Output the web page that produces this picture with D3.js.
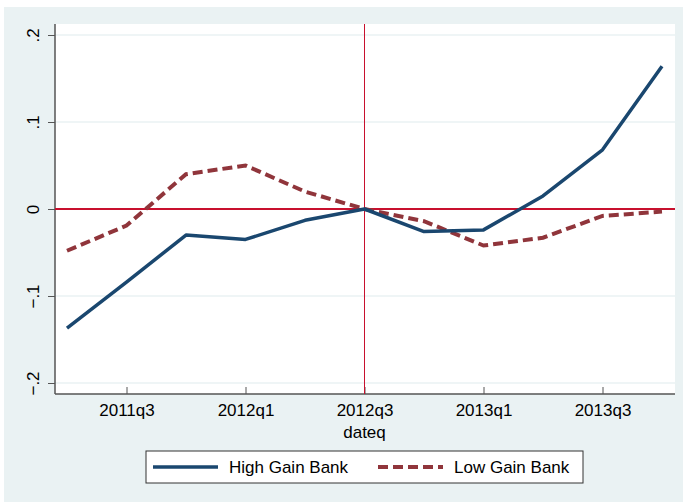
<!DOCTYPE html>
<html>
<head>
<meta charset="utf-8">
<script src="https://cdn.jsdelivr.net/npm/d3@7"></script>
<style>
  body { margin: 0; background: #fff; }
  svg text { font-family: "Liberation Sans", Arial, sans-serif; fill: #000; }
</style>
</head>
<body>
<div id="chart"></div>
<script>
// quarters shown on the x axis
const quarters = ['2011q2', '2011q3', '2011q4', '2012q1', '2012q2', '2012q3',
  '2012q4', '2013q1', '2013q2', '2013q3', '2013q4'];
const highGain = [-0.137, -0.084, -0.030, -0.035, -0.013, 0.000,
  -0.026, -0.024, 0.015, 0.068, 0.164];
const lowGain = [-0.048, -0.019, 0.040, 0.050, 0.020, 0.000,
  -0.014, -0.042, -0.033, -0.008, -0.003];
const yTicks = [-0.2, -0.1, 0, 0.1, 0.2];
const xTicks = ['2011q3', '2012q1', '2012q3', '2013q1', '2013q3'];
const seriesNames = ['High Gain Bank', 'Low Gain Bank'];

const W = 687, H = 502;
const plot = { left: 55, right: 675, top: 24, bottom: 394 };

const svg = d3.select('#chart')
  .append('svg')
  .attr('width', W)
  .attr('height', H);

// graph region
svg.append('rect')
  .attr('x', 4).attr('y', 7)
  .attr('width', 679).attr('height', H - 7)
  .attr('fill', '#eaf2f3');

svg.append('rect')
  .attr('x', plot.left).attr('y', plot.top)
  .attr('width', plot.right - plot.left).attr('height', plot.bottom - plot.top)
  .attr('fill', '#fff');

const qIndex = q => quarters.indexOf(q);
const x = d3.scaleLinear()
  .domain([qIndex('2011q3') - 1, qIndex('2013q3') + 1])
  .range([67, 662]);
const y = d3.scaleLinear()
  .domain([-0.2, 0.2])
  .range([383, 35]);

const fmt = d => d === 0 ? '0' : d3.format('.1f')(d).replace('0.', '.');

// grid
svg.append('g')
  .selectAll('line')
  .data(yTicks)
  .enter()
  .append('line')
  .attr('x1', plot.left).attr('x2', plot.right)
  .attr('y1', d => y(d)).attr('y2', d => y(d))
  .attr('stroke', '#eaf2f3')
  .attr('stroke-width', 1.5);

// y axis
const yAxis = d3.axisLeft(y).tickValues(yTicks).tickSize(7).tickFormat(fmt);
const gy = svg.append('g')
  .attr('transform', `translate(${plot.left},0)`)
  .call(yAxis);
gy.select('.domain').attr('d', `M0,${plot.top}V${plot.bottom}`).attr('stroke', '#555').attr('stroke-width', 1.5);
gy.selectAll('.tick line').attr('stroke', '#555');
gy.selectAll('.tick text')
  .style('font-size', '17px')
  .attr('x', 0).attr('dy', null)
  .attr('text-anchor', 'middle')
  .attr('transform', 'translate(-22,0) rotate(-90)')
  .attr('dominant-baseline', 'central');

// x axis
const xAxis = d3.axisBottom(x)
  .tickValues(xTicks.map(qIndex))
  .tickSize(7)
  .tickFormat(i => quarters[i]);
const gx = svg.append('g')
  .attr('transform', `translate(0,${plot.bottom})`)
  .call(xAxis);
gx.select('.domain').attr('d', `M${plot.left},0H${plot.right}`).attr('stroke', '#555').attr('stroke-width', 1.5);
gx.selectAll('.tick line').attr('stroke', '#555').attr('y1', 0).attr('y2', -7);
gx.selectAll('.tick text').style('font-size', '17px').attr('y', 10);

svg.append('text')
  .attr('x', x(qIndex('2012q3')))
  .attr('y', 438)
  .attr('text-anchor', 'middle')
  .style('font-size', '17px')
  .text('dateq');

// reference lines at 0 and 2012q3
svg.append('line')
  .attr('x1', plot.left).attr('x2', plot.right)
  .attr('y1', y(0)).attr('y2', y(0))
  .attr('stroke', '#c8102e').attr('stroke-width', 1.3)
  .attr('shape-rendering', 'crispEdges');
svg.append('line')
  .attr('x1', x(qIndex('2012q3'))).attr('x2', x(qIndex('2012q3')))
  .attr('y1', plot.top).attr('y2', plot.bottom)
  .attr('stroke', '#c8102e').attr('stroke-width', 1.3)
  .attr('shape-rendering', 'crispEdges');

const line = d3.line()
  .x((d, i) => x(i))
  .y(d => y(d));

svg.append('path')
  .datum(lowGain)
  .attr('d', line)
  .attr('fill', 'none')
  .attr('stroke', '#90353b')
  .attr('stroke-width', 4)
  .attr('stroke-dasharray', '10,5');

svg.append('path')
  .datum(highGain)
  .attr('d', line)
  .attr('fill', 'none')
  .attr('stroke', '#1a476f')
  .attr('stroke-width', 3.5)
  .attr('stroke-linejoin', 'round');

// legend
const legend = svg.append('g');
legend.append('rect')
  .attr('x', 146).attr('y', 451)
  .attr('width', 437).attr('height', 32)
  .attr('fill', '#fff')
  .attr('stroke', '#333')
  .attr('stroke-width', 1);

const items = [
  { name: seriesNames[0], color: '#1a476f', dash: null, width: 3.5, x0: 153 },
  { name: seriesNames[1], color: '#90353b', dash: '10,5', width: 4, x0: 378 }
];
items.forEach(it => {
  legend.append('line')
    .attr('x1', it.x0).attr('x2', it.x0 + 65)
    .attr('y1', 467).attr('y2', 467)
    .attr('stroke', it.color)
    .attr('stroke-width', it.width)
    .attr('stroke-dasharray', it.dash);
  legend.append('text')
    .attr('x', it.x0 + 76)
    .attr('y', 467)
    .attr('dominant-baseline', 'central')
    .style('font-size', '17px')
    .text(it.name);
});
</script>
</body>
</html>
